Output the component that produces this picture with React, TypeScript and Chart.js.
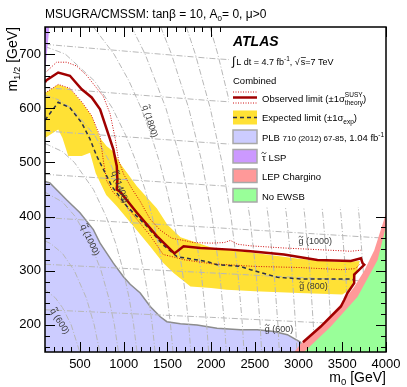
import React, { useEffect, useRef } from 'react';
import { Chart, registerables } from 'chart.js';
Chart.register(...registerables);

const FONT = '"Liberation Sans", Arial, Helvetica, sans-serif';

const xTicks = [500, 1000, 1500, 2000, 2500, 3000, 3500, 4000];
const yTicks = [200, 300, 400, 500, 600, 700];

// Observed limit
const obsM0 = [100, 118, 251, 385, 520, 634, 730, 806, 882, 921, 928, 921, 959, 1151, 1380, 1580, 1685, 1877, 2221, 2451, 2833, 3216, 3598, 3713, 3732, 3751, 3636, 3636, 3560, 3522, 3484, 3254, 3050];
const obsM12 = [648, 652, 666, 660, 635, 620, 598, 561, 524, 493, 468, 450, 446, 407, 364, 332, 345, 342, 339, 336, 330, 320, 318, 323, 314, 311, 293, 277, 259, 246, 234, 197, 168];
// Observed +1 sigma theory
const obsUpM0 = [120, 232, 347, 462, 580, 653, 767, 844, 902, 940, 1000, 1100, 1189, 1303, 1418, 1550, 1685, 1800, 2000, 2150, 2221, 2300, 2451, 2833, 3216, 3598, 3713];
const obsUpM12 = [668, 685, 685, 678, 660, 645, 622, 590, 545, 505, 478, 450, 428, 395, 375, 360, 356, 352, 351, 352, 356, 349, 346, 342, 339, 336, 338];
// Observed -1 sigma theory
const obsDnM0 = [100, 251, 385, 520, 634, 730, 770, 806, 880, 1000, 1151, 1303, 1452, 1580, 1700, 2000, 2500, 3000, 3500, 3650, 3700];
const obsDnM12 = [628, 644, 637, 612, 586, 548, 500, 466, 445, 425, 395, 365, 330, 325, 320, 313, 308, 306, 302, 304, 312];
// Expected limit
const expM0 = [100, 251, 385, 520, 615, 691, 787, 864, 1036, 1265, 1450, 1609, 1954, 2068, 2336, 2451, 2757, 3020, 3598, 3636];
const expM12 = [578, 611, 601, 573, 543, 512, 481, 456, 419, 382, 348, 326, 317, 311, 308, 302, 288, 285, 285, 283];
// Expected +-1 sigma band edges
const bandUpM0 = [100, 251, 385, 520, 634, 730, 806, 882, 960, 1151, 1380, 1500, 1650, 2000, 2500, 3000, 3500, 3700, 3650, 3600];
const bandUpM12 = [628, 644, 636, 611, 586, 545, 530, 520, 498, 456, 415, 385, 362, 343, 333, 322, 316, 318, 290, 270];
const bandDnM0 = [100, 251, 300, 366, 520, 615, 680, 800, 921, 1112, 1303, 1450, 1571, 1764, 2000, 2180, 2500, 3000, 3500, 3560];
const bandDnM12 = [545, 561, 545, 512, 512, 518, 480, 440, 419, 382, 345, 315, 296, 271, 268, 265, 262, 259, 256, 262];
// PLB 710 (2012) previous limit
const plbM0 = [100, 156, 346, 500, 653, 730, 882, 997, 1074, 1189, 1303, 1418, 1494, 1648, 1839, 2068, 2336, 2527, 2718, 2872, 3024, 3060];
const plbM12 = [465, 462, 431, 407, 376, 351, 314, 289, 275, 259, 234, 215, 206, 202, 200, 194, 191, 191, 188, 182, 168, 150];
// LEP chargino
const lepM0 = [2950, 3024, 3254, 3484, 3636, 3751, 3866, 3977, 4000];
const lepM12 = [150, 165, 200, 238, 270, 300, 338, 394, 407];
// No EWSB
const ewsbM0 = [3063, 3369, 3675, 3904, 4000];
const ewsbM12 = [150, 197, 252, 320, 382];
// stau LSP
const stauM0 = [100, 150];
const stauM12 = [665, 750];

// squark iso-mass contours [m0, m1/2]
const sq600 = [[100, 265], [218, 250], [300, 232], [400, 200], [497, 150]];
const sq800 = [[100, 355], [166, 350], [300, 332], [436, 300], [572, 250], [663, 200], [726, 150]];
const sq1000 = [[100, 445], [300, 427], [447, 400], [622, 350], [742, 300], [829, 250], [894, 200], [940, 150]];
const sq1200 = [[100, 535], [300, 520], [436, 500], [654, 450], [800, 400], [910, 350], [995, 300], [1062, 250], [1114, 200], [1152, 150]];
const sq1400 = [[100, 624], [250, 616], [400, 600], [669, 550], [843, 500], [973, 450], [1077, 400], [1161, 350], [1229, 300], [1284, 250], [1327, 200], [1359, 150]];
const sq1600 = [[100, 714], [332, 700], [669, 650], [872, 600], [1023, 550], [1145, 500], [1244, 450], [1327, 400], [1396, 350], [1453, 300], [1499, 250], [1536, 200], [1564, 150]];
const sq1800 = [[654, 750], [889, 700], [1062, 650], [1200, 600], [1314, 550], [1411, 500], [1492, 450], [1562, 400], [1621, 350], [1670, 300], [1711, 250], [1744, 200], [1768, 150]];
const sq2000 = [[1090, 750], [1245, 700], [1483, 600], [1658, 500], [1789, 400], [1884, 300], [1949, 200], [1972, 150]];
const sq2200 = [[1424, 750], [1546, 700], [1744, 600], [1895, 500], [2010, 400], [2095, 300], [2154, 200], [2174, 150]];
const sq2400 = [[1717, 750], [1819, 700], [1990, 600], [2124, 500], [2227, 400], [2304, 300], [2358, 200], [2376, 150]];
const sq2600 = [[1987, 750], [2076, 700], [2227, 600], [2347, 500], [2441, 400], [2512, 300], [2561, 200], [2578, 150]];
const sq2800 = [[2242, 750], [2322, 700], [2458, 600], [2567, 500], [2653, 400], [2718, 300], [2764, 200], [2780, 150]];
const sq3000 = [[2487, 750], [2559, 700], [2683, 600], [2784, 500], [2864, 400], [2924, 300], [2966, 200], [2981, 150]];
const sq3200 = [[2725, 750], [2791, 700], [2905, 600], [2998, 500], [3072, 400], [3129, 300], [3169, 200], [3182, 150]];
const sq3400 = [[2958, 750], [3018, 700], [3124, 600], [3211, 500], [3280, 400], [3333, 300], [3370, 200], [3383, 150]];
const sq3600 = [[3186, 750], [3242, 700], [3341, 600], [3422, 500], [3487, 400], [3537, 300], [3572, 200], [3584, 150]];
const sq3800 = [[3410, 750], [3463, 700], [3555, 600], [3632, 500], [3693, 400], [3740, 300], [3774, 200], [3785, 150]];
// gluino iso-mass contours
const gl600 = [[100, 228], [2000, 214], [4000, 198]];
const gl800 = [[100, 312], [2000, 296], [4000, 279]];
const gl1000 = [[100, 398], [2000, 380], [4000, 360]];
const gl1200 = [[100, 478], [2000, 458], [4000, 438]];
const gl1400 = [[100, 558], [2000, 536], [4000, 516]];
const gl1600 = [[100, 638], [2000, 614], [4000, 594]];
const gl1800 = [[100, 718], [2000, 692], [4000, 670]];
const gl2000 = [[100, 798], [2000, 770], [4000, 748]];

const contourLabels = [
  { t: 'g', n: '(1000)', m0: 3190, m12: 355, rot: 0 },
  { t: 'g', n: '(800)', m0: 3170, m12: 271, rot: 0 },
  { t: 'g', n: '(600)', m0: 2776, m12: 192, rot: 0 },
  { t: 'q', n: '(600)', m0: 270, m12: 207, rot: 58 },
  { t: 'q', n: '(1000)', m0: 615, m12: 357, rot: 65 },
  { t: 'q', n: '(1400)', m0: 959, m12: 455, rot: 69 },
  { t: 'q', n: '(1800)', m0: 1303, m12: 576, rot: 72 },
];

const pts = (xs: number[], ys: number[]) => xs.map((x, i) => ({ x, y: ys[i] }));
const pairs = (a: number[][]) => a.map(([x, y]) => ({ x, y }));

type Part = { t: string; size: number; dy?: number; style?: string; stay?: boolean };
function rich(ctx: CanvasRenderingContext2D, x: number, y: number, parts: Part[]) {
  let cx = x;
  let held = 0;
  for (const p of parts) {
    ctx.font = `${p.style || ''} ${p.size}px ${FONT}`;
    ctx.fillText(p.t, cx, y + (p.dy || 0));
    const w = ctx.measureText(p.t).width;
    if (p.stay) {
      held = w;
    } else {
      cx += Math.max(w, held);
      held = 0;
    }
  }
  return cx;
}

// draws a small tilde centred at (cx, cy)
function tilde(ctx: CanvasRenderingContext2D, cx: number, cy: number, w: number) {
  ctx.save();
  ctx.lineWidth = 0.8;
  ctx.strokeStyle = ctx.fillStyle as string;
  ctx.beginPath();
  ctx.moveTo(cx - w / 2, cy + 0.6);
  ctx.bezierCurveTo(cx - w / 4, cy - 1.6, cx - w / 8, cy - 0.6, cx, cy);
  ctx.bezierCurveTo(cx + w / 8, cy + 0.6, cx + w / 4, cy + 1.6, cx + w / 2, cy - 0.6);
  ctx.stroke();
  ctx.restore();
}

const overlay = {
  id: 'overlay',
  afterDatasetsDraw(chart: any) {
    const { ctx, chartArea: a, scales } = chart;
    const X = (v: number) => scales.x.getPixelForValue(v);
    const Y = (v: number) => scales.y.getPixelForValue(v);
    ctx.save();
    // contour labels
    ctx.fillStyle = '#3a3a3a';
    ctx.textBaseline = 'alphabetic';
    ctx.textAlign = 'left';
    for (const l of contourLabels) {
      ctx.save();
      ctx.translate(X(l.m0), Y(l.m12));
      ctx.rotate((l.rot * Math.PI) / 180);
      ctx.font = `9px ${FONT}`;
      const w1 = ctx.measureText(l.t).width;
      const full = ctx.measureText(l.t + ' ' + l.n).width;
      const x0 = -full / 2;
      ctx.fillText(l.t + ' ' + l.n, x0, 3);
      tilde(ctx, x0 + w1 / 2, -4.2, 4);
      ctx.restore();
    }
    // inner ticks
    ctx.strokeStyle = '#000';
    ctx.lineWidth = 1;
    ctx.beginPath();
    for (let v = 100; v <= 4000; v += 100) {
      const px = Math.round(X(v)) + 0.5;
      const len = v % 500 === 0 ? 10 : 5;
      ctx.moveTo(px, a.bottom);
      ctx.lineTo(px, a.bottom - len);
      ctx.moveTo(px, a.top);
      ctx.lineTo(px, a.top + len);
    }
    for (let v = 160; v <= 740; v += 20) {
      const py = Math.round(Y(v)) + 0.5;
      const len = v % 100 === 0 ? 10 : 5;
      ctx.moveTo(a.left, py);
      ctx.lineTo(a.left + len, py);
      ctx.moveTo(a.right, py);
      ctx.lineTo(a.right - len, py);
    }
    ctx.stroke();

    // legend box
    ctx.fillStyle = '#fff';
    ctx.fillRect(229, a.top, a.right - 229, 207 - a.top);
    ctx.textAlign = 'left';
    ctx.textBaseline = 'alphabetic';
    ctx.fillStyle = '#000';
    ctx.font = `italic bold 14px ${FONT}`;
    ctx.fillText('ATLAS', 233, 46);
    // lumi
    let e = rich(ctx, 232, 65, [{ t: '\u222B', size: 12 }]);
    e = rich(ctx, e + 1, 65, [
      { t: 'L dt = 4.7 fb', size: 9 },
      { t: '-1', size: 6.5, dy: -4 },
      { t: ', ', size: 9 },
    ]);
    ctx.font = `9px ${FONT}`;
    const sx = e + 6;
    ctx.fillText('\u221A', e, 65);
    ctx.beginPath();
    ctx.lineWidth = 0.7;
    ctx.strokeStyle = '#000';
    ctx.moveTo(sx, 57.5);
    ctx.lineTo(sx + 5, 57.5);
    ctx.stroke();
    rich(ctx, sx, 65, [{ t: 's=7 TeV', size: 9 }]);
    rich(ctx, 233, 84, [{ t: 'Combined', size: 9.5 }]);

    const L = 233, W = 24, T = 262;
    // observed symbol
    ctx.strokeStyle = '#d01010';
    ctx.lineWidth = 1;
    ctx.setLineDash([1, 1.5]);
    ctx.beginPath();
    ctx.moveTo(L, 92); ctx.lineTo(L + W, 92);
    ctx.moveTo(L, 103); ctx.lineTo(L + W, 103);
    ctx.stroke();
    ctx.setLineDash([]);
    ctx.strokeStyle = '#a00000';
    ctx.lineWidth = 2.5;
    ctx.beginPath();
    ctx.moveTo(L, 97.5); ctx.lineTo(L + W, 97.5);
    ctx.stroke();
    rich(ctx, T, 101.5, [
      { t: 'Observed limit (\u00B11\u03C3', size: 9.5 },
      { t: 'SUSY', size: 6.5, dy: -5, stay: true },
      { t: 'theory', size: 6.5, dy: 3 },
      { t: ')', size: 9.5 },
    ]);
    // expected symbol
    ctx.fillStyle = '#ffe135';
    ctx.fillRect(L, 110.5, W, 14);
    ctx.strokeStyle = '#2b2f4a';
    ctx.lineWidth = 1.5;
    ctx.setLineDash([4, 3]);
    ctx.beginPath();
    ctx.moveTo(L, 117.5); ctx.lineTo(L + W, 117.5);
    ctx.stroke();
    ctx.setLineDash([]);
    ctx.fillStyle = '#000';
    rich(ctx, T, 121, [
      { t: 'Expected limit (\u00B11\u03C3', size: 9.5 },
      { t: 'exp', size: 6.5, dy: 3 },
      { t: ')', size: 9.5 },
    ]);
    const boxes = [
      { y: 130, c: '#ccccff' },
      { y: 149.5, c: '#cc99ff' },
      { y: 169, c: '#ff9999' },
      { y: 188.5, c: '#99ff99' },
    ];
    for (const b of boxes) {
      ctx.fillStyle = b.c;
      ctx.fillRect(L, b.y, W, 13.5);
      ctx.strokeStyle = '#a8a8a8';
      ctx.lineWidth = 1.5;
      ctx.strokeRect(L, b.y, W, 13.5);
    }
    ctx.fillStyle = '#000';
    rich(ctx, T, 141, [
      { t: 'PLB ', size: 9.5 },
      { t: '710 (2012) 67-85', size: 8 },
      { t: ', 1.04 fb', size: 9.5 },
      { t: '-1', size: 6.5, dy: -4 },
    ]);
    ctx.font = `9.5px ${FONT}`;
    const tw = ctx.measureText('\u03C4').width;
    rich(ctx, T, 160.5, [{ t: '\u03C4 LSP', size: 9.5 }]);
    tilde(ctx, T + tw / 2, 153, 4.5);
    rich(ctx, T, 180, [{ t: 'LEP Chargino', size: 9.5 }]);
    rich(ctx, T, 199.5, [{ t: 'No EWSB', size: 9.5 }]);

    // frame
    ctx.strokeStyle = '#000';
    ctx.lineWidth = 1.5;
    ctx.strokeRect(a.left, a.top, a.right - a.left, a.bottom - a.top);
    ctx.restore();
  },
  afterDraw(chart: any) {
    const { ctx, chartArea: a } = chart;
    ctx.save();
    ctx.fillStyle = '#000';
    ctx.textBaseline = 'alphabetic';
    ctx.textAlign = 'left';
    // title
    let e = rich(ctx, 45, 18, [{ t: 'MSUGRA/CMSSM: tan\u03B2 = 10, A', size: 12 }]);
    e = rich(ctx, e, 18, [{ t: '0', size: 8, dy: 3 }]);
    rich(ctx, e, 18, [{ t: '= 0, \u03BC>0', size: 12 }]);
    // x title, right aligned
    ctx.font = `14px ${FONT}`;
    const w1 = ctx.measureText('m').width;
    ctx.font = `9.5px ${FONT}`;
    const w2 = ctx.measureText('0').width;
    ctx.font = `14px ${FONT}`;
    const w3 = ctx.measureText(' [GeV]').width;
    const xs = a.right - (w1 + w2 + w3);
    rich(ctx, xs, 382, [
      { t: 'm', size: 14 },
      { t: '0', size: 9.5, dy: 3 },
      { t: ' [GeV]', size: 14 },
    ]);
    // y title rotated
    ctx.translate(17, a.top);
    ctx.rotate(-Math.PI / 2);
    ctx.font = `14px ${FONT}`;
    const v1 = ctx.measureText('m').width;
    ctx.font = `9.5px ${FONT}`;
    const v2 = ctx.measureText('1/2').width;
    ctx.font = `14px ${FONT}`;
    const v3 = ctx.measureText(' [GeV]').width;
    rich(ctx, -(v1 + v2 + v3), 0, [
      { t: 'm', size: 14 },
      { t: '1/2', size: 9.5, dy: 3 },
      { t: ' [GeV]', size: 14 },
    ]);
    ctx.restore();
  },
};

export default function App() {
  const ref = useRef<HTMLCanvasElement>(null);
  useEffect(() => {
    document.body.style.margin = '0';
    if (!ref.current) return;
    const grayLine = (d: number[][]) => ({
      data: pairs(d),
      showLine: true,
      pointRadius: 0,
      borderColor: '#b8b8b8',
      borderWidth: 1,
      borderDash: [6, 2, 1, 2],
      fill: false,
      order: 80,
    });
    const band = [...pts(bandUpM0, bandUpM12), ...pts(bandDnM0, bandDnM12).reverse()];
    const chart = new Chart(ref.current, {
      type: 'scatter',
      data: {
        datasets: [
          { data: pts(plbM0, plbM12), showLine: true, pointRadius: 0, fill: 'start', backgroundColor: '#ccccff', borderColor: '#8c8c8c', borderWidth: 1.5, order: 100 },
          { data: band, showLine: true, pointRadius: 0, fill: 'shape', backgroundColor: '#ffe135', borderWidth: 0, borderColor: 'rgba(0,0,0,0)', order: 90 },
          ...[sq600, sq800, sq1000, sq1200, sq1400, sq1600, sq1800, sq2000, sq2200, sq2400, sq2600, sq2800, sq3000, sq3200, sq3400, sq3600, sq3800, gl600, gl800, gl1000, gl1200, gl1400, gl1600, gl1800, gl2000].map(grayLine),
          { data: pts(lepM0, lepM12), showLine: true, pointRadius: 0, fill: 'start', backgroundColor: '#ff9999', borderWidth: 0, borderColor: 'rgba(0,0,0,0)', order: 70 },
          { data: pts(ewsbM0, ewsbM12), showLine: true, pointRadius: 0, fill: 'start', backgroundColor: '#99ff99', borderWidth: 0, borderColor: 'rgba(0,0,0,0)', order: 65 },
          { data: pts(stauM0, stauM12), showLine: true, pointRadius: 0, fill: 'end', backgroundColor: '#cc99ff', borderWidth: 0, borderColor: 'rgba(0,0,0,0)', order: 60 },
          { data: pts(obsUpM0, obsUpM12), showLine: true, pointRadius: 0, fill: false, borderColor: '#d01010', borderWidth: 1, borderDash: [1, 1.5], order: 50 },
          { data: pts(obsDnM0, obsDnM12), showLine: true, pointRadius: 0, fill: false, borderColor: '#d01010', borderWidth: 1, borderDash: [1, 1.5], order: 50 },
          { data: pts(expM0, expM12), showLine: true, pointRadius: 0, fill: false, borderColor: '#2b2f4a', borderWidth: 1.5, borderDash: [4, 3], order: 40 },
          { data: pts(obsM0, obsM12), showLine: true, pointRadius: 0, fill: false, borderColor: '#a00000', borderWidth: 2.5, order: 30 },
        ],
      },
      options: {
        animation: false,
        responsive: false,
        maintainAspectRatio: false,
        layout: { padding: { left: 0, right: 21, top: 27, bottom: 0 } },
        plugins: { legend: { display: false }, tooltip: { enabled: false }, title: { display: false } },
        scales: {
          x: {
            type: 'linear',
            min: 100,
            max: 4000,
            afterBuildTicks: (s: any) => { s.ticks = xTicks.map((v) => ({ value: v })); },
            afterFit: (s: any) => { s.height = 35; },
            grid: { display: false, drawTicks: false },
            border: { display: false },
            ticks: { font: { family: FONT, size: 13 }, color: '#000', padding: 5, maxRotation: 0, autoSkip: false, callback: (v: any) => String(v) },
          },
          y: {
            type: 'linear',
            min: 150,
            max: 750,
            afterBuildTicks: (s: any) => { s.ticks = yTicks.map((v) => ({ value: v })); },
            afterFit: (s: any) => { s.width = 45; },
            grid: { display: false, drawTicks: false },
            border: { display: false },
            ticks: { font: { family: FONT, size: 13 }, color: '#000', padding: 4, autoSkip: false, callback: (v: any) => String(v) },
          },
        },
      },
      plugins: [overlay],
    } as any);
    return () => chart.destroy();
  }, []);
  return (
    <div style={{ width: 407, height: 387 }}>
      <canvas ref={ref} width={407} height={387} style={{ display: 'block' }} />
    </div>
  );
}
